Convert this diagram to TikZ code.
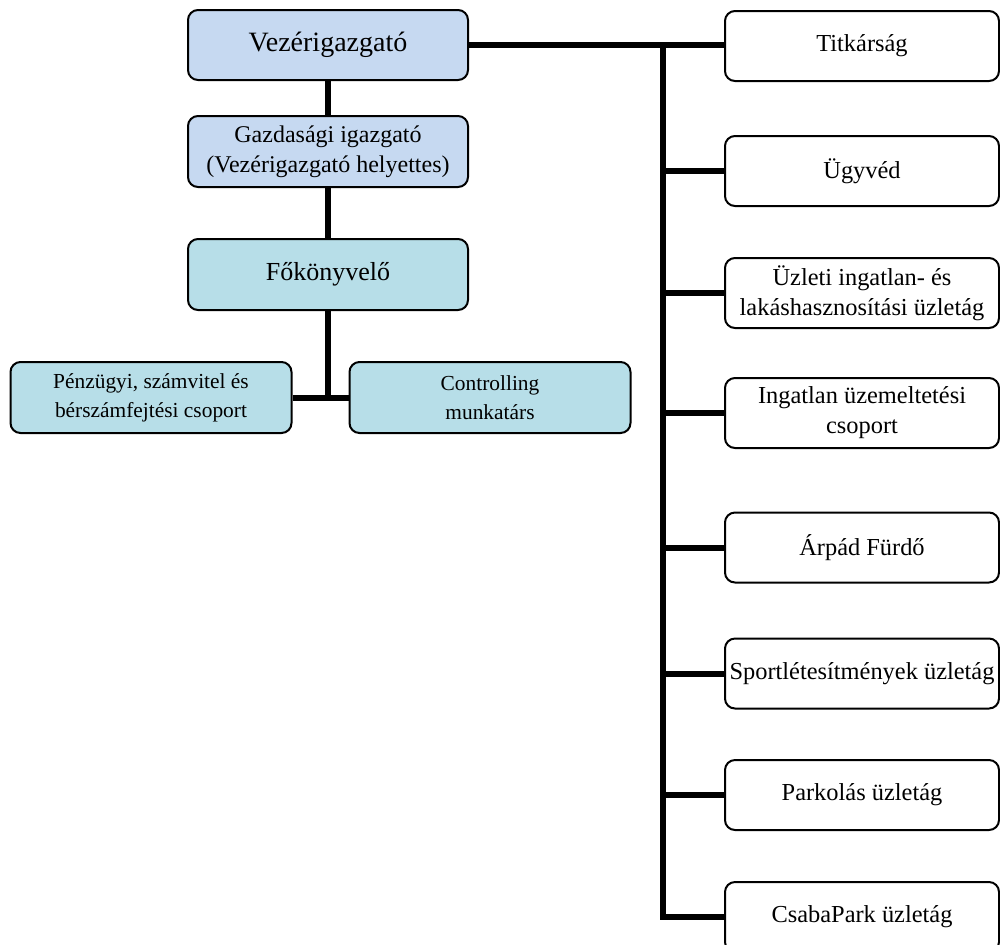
\documentclass[tikz,border=0pt]{standalone}
\usepackage{fontspec}
\setmainfont{Liberation Serif}
\definecolor{vblue}{HTML}{C6D9F1}
\definecolor{vteal}{HTML}{B7DEE8}
\begin{document}
\begin{tikzpicture}[x=0.5pt,y=-0.5pt,
  box/.style={draw=black, line width=1pt, rounded corners=5pt, inner sep=0pt,
    align=center, minimum height=35pt},
  lbox/.style={box, minimum width=140pt},
  rbox/.style={box, fill=white, minimum width=137pt, font=\fontsize{12.2}{15}\selectfont},
  sbox/.style={box, fill=vteal, minimum width=140.5pt, minimum height=35.5pt, font=\fontsize{10.7}{14.5}\selectfont},
  conn/.style={line width=3pt, line join=miter}]
\useasboundingbox (0,0) rectangle (1000,944);
% left column
\node[lbox, fill=vblue, font=\fontsize{14}{17}\selectfont] (V) at (328,45) {Vezérigazgató};
\node[lbox, fill=vblue, minimum height=35.5pt, font=\fontsize{12}{15}\selectfont] (G) at (328,151.5) {Gazdasági igazgató\\(Vezérigazgató helyettes)};
\node[lbox, fill=vteal, minimum height=35.5pt, font=\fontsize{13}{16}\selectfont] (F) at (328,274.5) {Főkönyvelő};
\node[sbox] (P) at (151,397.5) {Pénzügyi, számvitel és\\bérszámfejtési csoport};
\node[sbox] (C) at (490,397.5) {Controlling\\munkatárs};
% right column
\node[rbox] (T)  at (862,46)  {Titkárság};
\node[rbox] (U)  at (862,171) {Ügyvéd};
\node[rbox] (UZ) at (862,293) {Üzleti ingatlan- és\\lakáshasznosítási üzletág};
\node[rbox] (I)  at (862,413) {Ingatlan üzemeltetési\\csoport};
\node[rbox] (A)  at (862,547.5) {Árpád Fürdő};
\node[rbox] (S)  at (862,673.5) {Sportlétesítmények üzletág};
\node[rbox] (PK) at (862,795) {Parkolás üzletág};
\node[rbox] (CS) at (862,917) {CsabaPark üzletág};
% connectors
\draw[conn] (V.south) -- (G.north);
\draw[conn] (G.south) -- (F.north);
\draw[conn] (F.south) -- (F.south |- P.east);
\draw[conn] (P.east) -- (C.west);
\coordinate (trunk) at (663,44);
\draw[conn] (V.east) -- (V.east -| T.west);
\draw[conn] (trunk) |- (CS.west);
\foreach \n in {U,UZ,I,A,S,PK}{
  \draw[conn] (trunk |- \n.west) -- (\n.west);
}
\end{tikzpicture}
\end{document}
